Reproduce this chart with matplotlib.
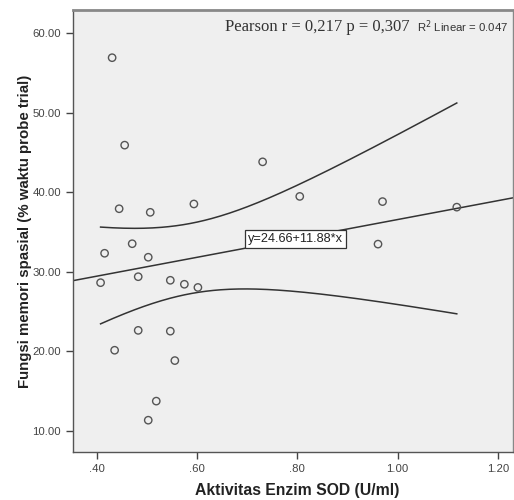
import numpy as np
import matplotlib
matplotlib.use("Agg")
import matplotlib.pyplot as plt

# Data
sod = [0.431, 0.456, 0.445, 0.507, 0.594, 0.471, 0.416, 0.503, 0.408, 0.483,
       0.547, 0.575, 0.602, 0.483, 0.547, 0.436, 0.556, 0.519, 0.503,
       0.731, 0.805, 0.970, 1.118, 0.961]
memori = [56.9, 45.9, 37.9, 37.45, 38.5, 33.5, 32.3, 31.8, 28.6, 29.35,
          28.9, 28.4, 28.0, 22.6, 22.5, 20.1, 18.8, 13.7, 11.3,
          43.8, 39.45, 38.8, 38.1, 33.45]

intercept = 24.66
slope = 11.88
x_ticks = [0.40, 0.60, 0.80, 1.00, 1.20]
y_ticks = [10, 20, 30, 40, 50, 60]

x = np.array(sod)
y = np.array(memori)
n = len(x)

# 95% confidence band of the mean
xbar = x.mean()
sxx = np.sum((x - xbar) ** 2)
b = np.sum((x - xbar) * (y - y.mean())) / sxx
a = y.mean() - b * xbar
resid = y - (a + b * x)
s = np.sqrt(np.sum(resid ** 2) / (n - 2))
t_crit = 2.074  # t(0.975, 22)
xb = np.linspace(x.min(), x.max(), 200)
yb = intercept + slope * xb
half = t_crit * s * np.sqrt(1 / n + (xb - xbar) ** 2 / sxx)

fig = plt.figure(figsize=(5.14, 5.0), dpi=100)
ax = fig.add_axes([0.142, 0.096, 0.856, 0.884])
ax.set_facecolor("#efefef")

xlim = (0.353, 1.23)
ax.set_xlim(xlim)
ax.set_ylim(7.3, 62.9)

xl = np.array(xlim)
ax.plot(xl, intercept + slope * xl, color="#333333", lw=1.1, zorder=2)
ax.plot(xb, yb + half, color="#333333", lw=1.1, zorder=2)
ax.plot(xb, yb - half, color="#333333", lw=1.1, zorder=2)

ax.scatter(x, y, s=28, facecolors="none", edgecolors="#555555", linewidths=1.0, zorder=3)

ax.text(0.797, intercept + slope * 0.797, "y=24.66+11.88*x", ha="center", va="center",
        fontsize=9.2, family="Liberation Sans", color="#222222", zorder=4,
        bbox=dict(boxstyle="square,pad=0.22", facecolor="white", edgecolor="#333333", lw=0.9))

ax.text(0.345, 0.962, "Pearson r = 0,217 p = 0,307", transform=ax.transAxes,
        family="Liberation Serif", fontsize=12, color="#333333", va="center", ha="left")
ax.text(0.783, 0.962, "R$^2$ Linear = 0.047", transform=ax.transAxes,
        family="Liberation Sans", fontsize=8.2, color="#333333", va="center", ha="left")

ax.set_xticks(x_ticks)
ax.set_xticklabels(["." + f"{v:.2f}".split(".")[1] if v < 1 else f"{v:.2f}" for v in x_ticks])
ax.set_yticks(y_ticks)
ax.set_yticklabels([f"{v:.2f}" for v in y_ticks])
ax.tick_params(labelsize=8.2, colors="#444444", length=5, width=1, labelcolor="#444444")
for lab in ax.get_xticklabels() + ax.get_yticklabels():
    lab.set_family("Liberation Sans")

for sp_name, spine in ax.spines.items():
    spine.set_color("#555555")
    spine.set_linewidth(1.0)
ax.spines["top"].set_color("#888888")
ax.spines["top"].set_linewidth(2)
ax.spines["right"].set_color("#888888")

ax.set_xlabel("Aktivitas Enzim SOD (U/ml)", fontsize=11.3, fontweight="bold",
              family="Liberation Sans", color="#222222")
ax.set_ylabel("Fungsi memori spasial (% waktu probe trial)", fontsize=10.8, fontweight="bold",
              family="Liberation Sans", color="#222222")
ax.xaxis.set_label_coords(0.509, -0.086)
ax.yaxis.set_label_coords(-0.109, 0.5)
ax.xaxis.label.set_va("center")
ax.yaxis.label.set_va("center")

fig.savefig("out.png", dpi=100, facecolor="white")
